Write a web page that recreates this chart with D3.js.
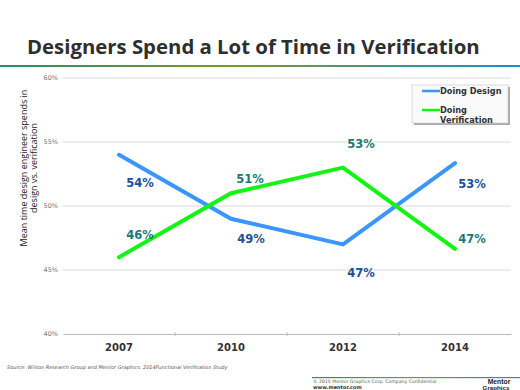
<!DOCTYPE html>
<html>
<head>
<meta charset="utf-8">
<script src="https://cdn.jsdelivr.net/npm/d3@7"></script>
<style>
  body { margin: 0; background: #fff; }
  svg { display: block; }
</style>
</head>
<body>
<script>
// chart data
const years = ["2007", "2010", "2012", "2014"]
const design = [54, 49, 47, 53.35]
const verification = [46, 51, 53, 46.65]
const designLabels = ["54%", "49%", "47%", "53%"]
const verificationLabels = ["46%", "51%", "53%", "47%"]
const yTicks = [40, 45, 50, 55, 60]
const seriesNames = ["Doing Design", "Doing Verification"]

// label nudges from each point (px)
const designNudge = [[21, 28], [20, 20], [18, 29], [17, 21]]
const verifNudge = [[21, -22], [19, -14], [18, -24], [17, -10]]

const W = 520, H = 390
const margin = { top: 78, right: 9, bottom: 56, left: 63 }

const svg = d3.select('body')
  .append('svg')
  .attr('width', W)
  .attr('height', H)

const defs = svg.append('defs')
const grad = defs.append('linearGradient').attr('id', 'rule')
grad.append('stop').attr('offset', '0%').attr('stop-color', '#2e8a6a')
grad.append('stop').attr('offset', '45%').attr('stop-color', '#7a9a2c')
grad.append('stop').attr('offset', '100%').attr('stop-color', '#1f8dc8')

// title
const title = svg.append('text')
  .attr('x', 27)
  .attr('y', 54)
  .attr('font-family', 'Open Sans, sans-serif')
  .attr('font-weight', 'bold')
  .attr('font-size', 19)
  .attr('fill', '#2e2e2e')
  .text('Designers Spend a Lot of Time in Verification')
// squeeze to the width of the original
const tw = title.node().getComputedTextLength()
title.attr('font-size', 19 * 453 / tw)

svg.append('rect')
  .attr('x', 0).attr('y', 65)
  .attr('width', W).attr('height', 2)
  .attr('fill', 'url(#rule)')

const x = d3.scaleBand()
  .domain(years)
  .range([margin.left, W - margin.right])

const y = d3.scaleLinear()
  .domain([40, 60])
  .range([H - margin.bottom, margin.top])

// grid
svg.append('g')
  .selectAll('line')
  .data(yTicks.slice(1))
  .join('line')
  .attr('x1', margin.left)
  .attr('x2', W - margin.right)
  .attr('y1', d => y(d))
  .attr('y2', d => y(d))
  .attr('stroke', '#d9d9d9')
  .attr('stroke-width', 1)

// y axis labels
svg.append('g')
  .selectAll('text')
  .data(yTicks)
  .join('text')
  .attr('x', 58)
  .attr('y', d => y(d))
  .attr('dy', '0.35em')
  .attr('text-anchor', 'end')
  .attr('font-family', 'DejaVu Sans, sans-serif')
  .attr('font-size', 6.5)
  .attr('fill', '#777')
  .text(d => d + '%')

// x axis
const xAxis = svg.append('g')
  .attr('transform', `translate(0, ${y(40)})`)
  .call(d3.axisBottom(x).tickSize(0).tickPadding(10))
xAxis.select('.domain').attr('stroke', '#bbb')
xAxis.selectAll('text')
  .attr('font-family', 'DejaVu Sans, sans-serif')
  .attr('font-weight', 'bold')
  .attr('font-size', 10)
  .attr('fill', '#333')
// ticks between categories
svg.append('g')
  .selectAll('line')
  .data(years.slice(1))
  .join('line')
  .attr('x1', d => x(d))
  .attr('x2', d => x(d))
  .attr('y1', y(40) - 2)
  .attr('y2', y(40) + 2)
  .attr('stroke', '#bbb')

// y title
const yTitle = svg.append('text')
  .attr('transform', 'translate(28, 168) rotate(-90)')
  .attr('text-anchor', 'middle')
  .attr('font-family', 'Open Sans, sans-serif')
  .attr('font-size', 9)
  .attr('fill', '#222')
yTitle.append('tspan').attr('x', 0).attr('dy', '-0.1em').text('Mean time design engineer spends in')
yTitle.append('tspan').attr('x', 0).attr('dy', '1.1em').text('design vs. verification')

// lines
const line = d3.line()
  .x((d, i) => x(years[i]) + x.bandwidth() / 2)
  .y(d => y(d))

svg.append('path')
  .datum(design)
  .attr('d', line)
  .attr('fill', 'none')
  .attr('stroke', '#3a96fa')
  .attr('stroke-width', 4)
  .attr('stroke-linecap', 'round')

svg.append('path')
  .datum(verification)
  .attr('d', line)
  .attr('fill', 'none')
  .attr('stroke', '#14f414')
  .attr('stroke-width', 4)
  .attr('stroke-linecap', 'round')

// value labels
function addLabels(vals, labels, nudge, color) {
  svg.append('g')
    .selectAll('text')
    .data(vals)
    .join('text')
    .attr('x', (d, i) => x(years[i]) + x.bandwidth() / 2 + nudge[i][0])
    .attr('y', (d, i) => y(d) + nudge[i][1])
    .attr('dy', '0.35em')
    .attr('text-anchor', 'middle')
    .attr('font-family', 'DejaVu Sans, sans-serif')
    .attr('font-weight', 'bold')
    .attr('font-size', 11.5)
    .attr('fill', color)
    .text((d, i) => labels[i])
}
addLabels(design, designLabels, designNudge, '#1d4f98')
addLabels(verification, verificationLabels, verifNudge, '#1a7a72')

// legend
const lg = svg.append('g').attr('transform', 'translate(412, 85)')
lg.append('rect')
  .attr('x', 2).attr('y', 2)
  .attr('width', 96).attr('height', 38)
  .attr('fill', '#aaa')
lg.append('rect')
  .attr('width', 96).attr('height', 38)
  .attr('fill', '#fafafa')
  .attr('stroke', '#ccc')
  .attr('stroke-width', 0.7)
const legendColors = ['#3a96fa', '#14f414']
lg.selectAll('line.key')
  .data(seriesNames)
  .join('line')
  .attr('class', 'key')
  .attr('x1', 10).attr('x2', 28)
  .attr('y1', (d, i) => 6 + i * 19)
  .attr('y2', (d, i) => 6 + i * 19)
  .attr('stroke', (d, i) => legendColors[i])
  .attr('stroke-width', 2.5)
const lgText = lg.selectAll('text')
  .data(seriesNames)
  .join('text')
  .attr('x', 28)
  .attr('y', (d, i) => 6 + i * 19)
  .attr('font-family', 'DejaVu Sans, sans-serif')
  .attr('font-weight', 'bold')
  .attr('font-size', 8.2)
  .attr('fill', '#333')
lgText.each(function (d) {
  const words = d === 'Doing Verification' ? ['Doing', 'Verification'] : [d]
  d3.select(this).selectAll('tspan')
    .data(words)
    .join('tspan')
    .attr('x', 28)
    .attr('dy', (w, j) => j === 0 ? '0.35em' : '1.2em')
    .text(w => w)
})

// footer
svg.append('text')
  .attr('x', 7).attr('y', 369)
  .attr('font-family', 'DejaVu Sans, sans-serif')
  .attr('font-style', 'italic')
  .attr('font-size', 5)
  .attr('fill', '#555')
  .text('Source:  Wilson Research Group and Mentor Graphics, 2014Functional Verification Study')

svg.append('rect')
  .attr('x', 312).attr('y', 377)
  .attr('width', W - 312).attr('height', 1.2)
  .attr('fill', 'url(#rule)')

svg.append('text')
  .attr('x', 313).attr('y', 383)
  .attr('font-family', 'DejaVu Sans, sans-serif')
  .attr('font-size', 4.6)
  .attr('fill', '#555')
  .text('© 2015 Mentor Graphics Corp.    Company Confidential')

svg.append('text')
  .attr('x', 313).attr('y', 389)
  .attr('font-family', 'DejaVu Sans, sans-serif')
  .attr('font-weight', 'bold')
  .attr('font-size', 5)
  .attr('fill', '#333')
  .text('www.mentor.com')

// logo words
svg.append('text')
  .attr('x', 499).attr('y', 383.5)
  .attr('text-anchor', 'middle')
  .attr('font-family', 'Liberation Sans Narrow, Liberation Sans, sans-serif')
  .attr('font-weight', 'bold')
  .attr('font-size', 6.8)
  .attr('fill', '#222')
  .text('Mentor')
svg.append('text')
  .attr('x', 496).attr('y', 389.5)
  .attr('text-anchor', 'middle')
  .attr('font-family', 'Liberation Sans Narrow, Liberation Sans, sans-serif')
  .attr('font-weight', 'bold')
  .attr('font-size', 6.2)
  .attr('fill', '#222')
  .text('Graphics')
</script>
</body>
</html>
